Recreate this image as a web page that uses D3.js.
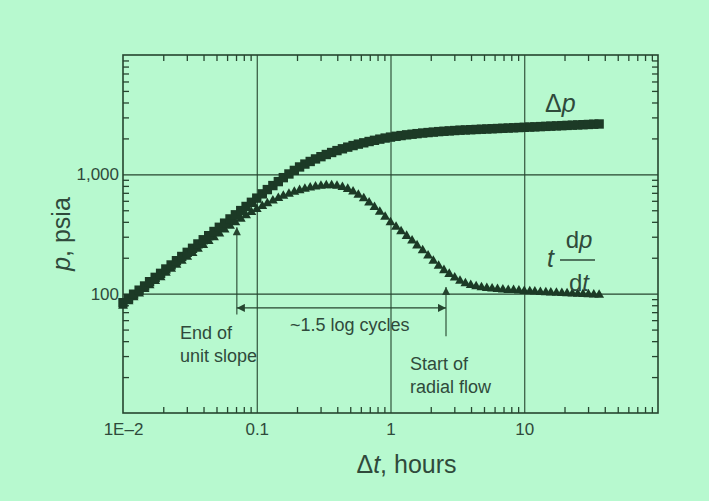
<!DOCTYPE html>
<html>
<head>
<meta charset="utf-8">
<script src="https://cdn.jsdelivr.net/npm/d3@7"></script>
<style>
  html, body { margin: 0; padding: 0; background: #b7f9cf; }
  svg { display: block; font-family: "Liberation Sans", Arial, sans-serif; }
</style>
</head>
<body>
<div id="chart"></div>
<script>
// elapsed time, hours (log spaced)
const times = [
  0.0100, 0.0110, 0.0120, 0.0132, 0.0145, 0.0158, 0.0174, 0.0191, 0.0209, 0.0229,
  0.0251, 0.0275, 0.0302, 0.0331, 0.0363, 0.0398, 0.0437, 0.0479, 0.0525, 0.0575,
  0.0631, 0.0692, 0.0759, 0.0832, 0.0912, 0.100, 0.110, 0.120, 0.132, 0.145,
  0.158, 0.174, 0.191, 0.209, 0.229, 0.251, 0.275, 0.302, 0.331, 0.363,
  0.398, 0.437, 0.479, 0.525, 0.575, 0.631, 0.692, 0.759, 0.832, 0.912,
  1.00, 1.10, 1.20, 1.32, 1.45, 1.58, 1.74, 1.91, 2.09, 2.29,
  2.51, 2.75, 3.02, 3.31, 3.63, 3.98, 4.37, 4.79, 5.25, 5.75,
  6.31, 6.92, 7.59, 8.32, 9.12, 10.0, 11.0, 12.0, 13.2, 14.5,
  15.8, 17.4, 19.1, 20.9, 22.9, 25.1, 27.5, 30.2, 33.1, 36.3
];

// pressure change, psia
const deltaP = [
  84, 91, 99, 107, 116, 126, 137, 148, 161, 174,
  189, 205, 222, 240, 261, 283, 306, 332, 360, 390,
  423, 458, 497, 538, 583, 632, 686, 745, 805, 869,
  938, 1007, 1079, 1153, 1219, 1282, 1346, 1406, 1466, 1524,
  1581, 1637, 1690, 1742, 1791, 1837, 1884, 1928, 1972, 2014,
  2051, 2084, 2113, 2143, 2168, 2193, 2218, 2239, 2259, 2280,
  2296, 2312, 2328, 2344, 2355, 2366, 2377, 2388, 2399, 2410,
  2421, 2432, 2443, 2455, 2466, 2477, 2489, 2500, 2512, 2523,
  2535, 2547, 2559, 2570, 2582, 2594, 2606, 2618, 2630, 2642
];

// derivative t dp/dt, psia
const derivative = [
  79, 86, 93, 100, 109, 117, 127, 137, 149, 161,
  174, 188, 203, 219, 237, 255, 275, 296, 319, 344,
  369, 396, 424, 452, 481, 511, 541, 571, 601, 631,
  659, 685, 711, 735, 755, 773, 789, 800, 807, 809,
  800, 782, 753, 716, 673, 627, 578, 531, 485, 439,
  396, 363, 333, 304, 278, 253, 230, 208, 188, 171,
  157, 146, 136, 128, 122, 118, 115, 113, 111, 110,
  109, 108, 107, 107, 106, 105, 104.5, 104, 103, 102.6,
  102, 101.4, 101, 100.5, 100, 99.5, 99.1, 98.6, 98.2, 97.7
];

const xTickValues = [0.01, 0.1, 1, 10];
const xTickLabels = ["1E\u20132", "0.1", "1", "10"];
const yTickValues = [100, 1000];
const yTickLabels = ["100", "1,000"];
const xGridValues = [0.1, 1, 10];
const yGridValues = [100, 1000];

// annotation times (hours) and levels (psia)
const endUnitSlope = { t: 0.071, tip: 361, bottom: 67 };
const startRadial = { t: 2.6, tip: 114, bottom: 44 };
const spanLevel = 76;

const W = 709, H = 501;
const margin = { top: 55, right: 51, bottom: 88, left: 123 };
const width = W - margin.left - margin.right;
const height = H - margin.top - margin.bottom;

const ink = "#26452f";
const textInk = "#2f4a3b";
const markInk = "#1c3a26";

const root = d3.select("#chart").append("svg")
  .attr("width", W)
  .attr("height", H);

root.append("rect").attr("width", W).attr("height", H).attr("fill", "#b7f9cf");

const defs = root.append("defs");
defs.append("marker")
  .attr("id", "arrow")
  .attr("viewBox", "0 0 10 10")
  .attr("refX", 10).attr("refY", 5)
  .attr("markerWidth", 10).attr("markerHeight", 8)
  .attr("markerUnits", "userSpaceOnUse")
  .attr("orient", "auto-start-reverse")
  .append("path")
  .attr("d", "M0,0 L10,5 L0,10 Z")
  .attr("fill", ink);

const svg = root.append("g")
  .attr("transform", `translate(${margin.left}, ${margin.top})`);

const x = d3.scaleLog().domain([0.01, 100]).range([0, width]);
const y = d3.scaleLog().domain([10, 10000]).range([height, 0]);

const isDecade = v => Math.abs(Math.log10(v) - Math.round(Math.log10(v))) < 1e-6;
const xMinor = x.ticks().filter(v => !isDecade(v));
const yMinor = y.ticks().filter(v => !isDecade(v));

// grid lines
svg.append("g")
  .attr("transform", `translate(0,${height})`)
  .call(d3.axisBottom(x).tickValues(xGridValues).tickSize(-height).tickFormat(""))
  .call(g => g.select(".domain").remove())
  .call(g => g.selectAll("line").attr("stroke", ink).attr("stroke-width", 1.1));

svg.append("g")
  .call(d3.axisLeft(y).tickValues(yGridValues).tickSize(-width).tickFormat(""))
  .call(g => g.select(".domain").remove())
  .call(g => g.selectAll("line").attr("stroke", ink).attr("stroke-width", 1.1));

// minor ticks on all four sides, pointing inward
const tickLen = 6;
[
  { axis: d3.axisBottom(x), tr: `translate(0,${height})`, vals: xMinor },
  { axis: d3.axisTop(x), tr: "translate(0,0)", vals: xMinor },
  { axis: d3.axisLeft(y), tr: "translate(0,0)", vals: yMinor },
  { axis: d3.axisRight(y), tr: `translate(${width},0)`, vals: yMinor }
].forEach(a => {
  svg.append("g")
    .attr("transform", a.tr)
    .call(a.axis.tickValues(a.vals).tickSize(-tickLen).tickFormat(""))
    .call(g => g.select(".domain").remove())
    .call(g => g.selectAll("line").attr("stroke", ink).attr("stroke-width", 1.3));
});

// tick labels
svg.append("g")
  .attr("transform", `translate(0,${height})`)
  .call(d3.axisBottom(x).tickValues(xTickValues).tickSize(0).tickPadding(10)
    .tickFormat((d, i) => xTickLabels[i]))
  .call(g => g.select(".domain").remove())
  .call(g => g.selectAll("text").attr("fill", textInk)
    .style("font-size", "17px").style("font-family", "Liberation Sans, Arial, sans-serif"));

svg.append("g")
  .call(d3.axisLeft(y).tickValues(yTickValues).tickSize(0).tickPadding(4)
    .tickFormat((d, i) => yTickLabels[i]))
  .call(g => g.select(".domain").remove())
  .call(g => g.selectAll("text").attr("fill", textInk)
    .style("font-size", "17px").style("font-family", "Liberation Sans, Arial, sans-serif"));

// frame
svg.append("rect")
  .attr("width", width).attr("height", height)
  .attr("fill", "none").attr("stroke", ink).attr("stroke-width", 1.6);

// data markers
const pts = times.map((t, i) => ({ t: t, dp: deltaP[i], dv: derivative[i] }));

svg.append("g").selectAll("path")
  .data(pts)
  .join("path")
  .attr("transform", d => `translate(${x(d.t)},${y(d.dv)})`)
  .attr("d", d3.symbol(d3.symbolTriangle, 42))
  .attr("fill", markInk);

svg.append("g").selectAll("path")
  .data(pts)
  .join("path")
  .attr("transform", d => `translate(${x(d.t)},${y(d.dp)})`)
  .attr("d", d3.symbol(d3.symbolSquare, 88))
  .attr("fill", markInk);

// annotation arrows
svg.append("line")
  .attr("x1", x(endUnitSlope.t)).attr("x2", x(endUnitSlope.t))
  .attr("y1", y(endUnitSlope.bottom)).attr("y2", y(endUnitSlope.tip))
  .attr("stroke", ink).attr("stroke-width", 1.1)
  .attr("marker-end", "url(#arrow)");

svg.append("line")
  .attr("x1", x(startRadial.t)).attr("x2", x(startRadial.t))
  .attr("y1", y(startRadial.bottom)).attr("y2", y(startRadial.tip))
  .attr("stroke", ink).attr("stroke-width", 1.1)
  .attr("marker-end", "url(#arrow)");

svg.append("line")
  .attr("x1", x(endUnitSlope.t)).attr("x2", x(startRadial.t))
  .attr("y1", y(spanLevel)).attr("y2", y(spanLevel))
  .attr("stroke", ink).attr("stroke-width", 1.1)
  .attr("marker-start", "url(#arrow)")
  .attr("marker-end", "url(#arrow)");

// annotation text
const note = (tx, ty, str) => svg.append("text")
  .attr("x", tx).attr("y", ty)
  .attr("fill", textInk)
  .style("font-size", "18px")
  .text(str);

note(57, 284, "End of");
note(57, 307, "unit slope");
note(167, 276, "~1.5 log cycles");
note(287, 315, "Start of");
note(287, 338, "radial flow");

// curve labels
const dpLabel = svg.append("text")
  .attr("x", 422).attr("y", 57)
  .attr("fill", textInk)
  .style("font-size", "25px");
dpLabel.append("tspan").text("\u0394");
dpLabel.append("tspan").style("font-style", "italic").text("p");

svg.append("text")
  .attr("x", 424).attr("y", 212)
  .attr("fill", textInk)
  .style("font-size", "25px")
  .style("font-style", "italic")
  .text("t");

const dpNum = svg.append("text")
  .attr("x", 456).attr("y", 193)
  .attr("text-anchor", "middle")
  .attr("fill", textInk)
  .style("font-size", "24px");
dpNum.append("tspan").text("d");
dpNum.append("tspan").style("font-style", "italic").text("p");

svg.append("line")
  .attr("x1", 437).attr("x2", 472)
  .attr("y1", 205).attr("y2", 205)
  .attr("stroke", textInk).attr("stroke-width", 1.5);

const dtDen = svg.append("text")
  .attr("x", 456).attr("y", 236)
  .attr("text-anchor", "middle")
  .attr("fill", textInk)
  .style("font-size", "24px");
dtDen.append("tspan").text("d");
dtDen.append("tspan").style("font-style", "italic").text("t");

// axis titles
const xTitle = svg.append("text")
  .attr("x", width / 2 + 16).attr("y", height + 60)
  .attr("text-anchor", "middle")
  .attr("fill", textInk)
  .style("font-size", "25px");
xTitle.append("tspan").text("\u0394");
xTitle.append("tspan").style("font-style", "italic").text("t");
xTitle.append("tspan").text(", hours");

const yTitle = svg.append("text")
  .attr("transform", `translate(${70 - margin.left},${234 - margin.top}) rotate(-90)`)
  .attr("text-anchor", "middle")
  .attr("fill", textInk)
  .style("font-size", "25px");
yTitle.append("tspan").style("font-style", "italic").text("p");
yTitle.append("tspan").text(", psia");
</script>
</body>
</html>
